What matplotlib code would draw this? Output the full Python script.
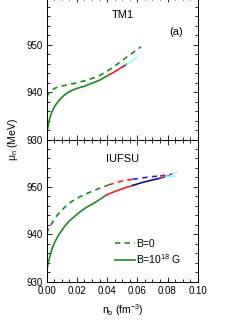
import matplotlib
matplotlib.use("Agg")
import matplotlib.pyplot as plt
from matplotlib.ticker import MultipleLocator, FixedLocator

plt.rcParams['font.family'] = ['Liberation Sans', 'DejaVu Sans']
plt.rcParams['mathtext.fontset'] = 'custom'
plt.rcParams['mathtext.rm'] = 'Liberation Sans'
plt.rcParams['mathtext.it'] = 'Liberation Sans:italic'
plt.rcParams['mathtext.bf'] = 'Liberation Sans:bold'

# ---------------- data ----------------
# TM1, B=0 (dashed)
tm1_b0_n = [0, 0.001, 0.002, 0.0035, 0.0065, 0.01, 0.015, 0.02, 0.025, 0.03, 0.035, 0.04, 0.045, 0.05, 0.055, 0.06, 0.0625]
tm1_b0_mu = [939.0, 939.6, 940.0, 940.5, 941.0, 941.3, 941.6, 942.0, 942.4, 942.9, 943.5, 944.4, 945.5, 946.7, 947.9, 949.0, 949.6]
# TM1, B=1e18 G (solid), coloured pieces
tm1_b18_green_n = [0, 0.0005, 0.001, 0.002, 0.0035, 0.0055, 0.0075, 0.01, 0.0125, 0.0145, 0.0175, 0.021, 0.0245, 0.03, 0.0355, 0.042]
tm1_b18_green_mu = [930.7, 932.0, 933.0, 934.5, 935.9, 937.1, 938.0, 938.9, 939.6, 940.0, 940.5, 940.9, 941.2, 941.9, 942.6, 943.8]
tm1_b18_red_n = [0.042, 0.046, 0.0505]
tm1_b18_red_mu = [943.8, 944.5, 945.4]
tm1_b18_purple_n = [0.0505, 0.053]
tm1_b18_purple_mu = [945.4, 945.9]
tm1_b18_cyan_n = [0.053, 0.0565, 0.0595]
tm1_b18_cyan_mu = [945.9, 946.6, 947.3]

# IUFSU, B=0 (dashed), coloured pieces
iu_b0_green_n = [0, 0.001, 0.002, 0.0033, 0.005, 0.0077, 0.011, 0.0143, 0.018, 0.022, 0.026, 0.031, 0.036, 0.041]
iu_b0_green_mu = [940.1, 941.0, 941.6, 942.2, 943.1, 944.3, 945.4, 946.4, 947.2, 947.9, 948.5, 949.2, 949.8, 950.4]
iu_b0_red_n = [0.041, 0.046, 0.051, 0.057]
iu_b0_red_mu = [950.4, 950.9, 951.3, 951.6]
iu_b0_blue_n = [0.057, 0.062, 0.068, 0.075]
iu_b0_blue_mu = [951.6, 951.8, 952.1, 952.3]
iu_b0_purple_n = [0.075, 0.079, 0.083]
iu_b0_purple_mu = [952.3, 952.5, 952.7]
iu_b0_cyan_n = [0.083, 0.086, 0.089]
iu_b0_cyan_mu = [952.8, 953.1, 953.2]
# IUFSU, B=1e18 G (solid), coloured pieces
iu_b18_green_n = [0, 0.0005, 0.001, 0.002, 0.0035, 0.0055, 0.0075, 0.01, 0.0125, 0.015, 0.019, 0.022, 0.026, 0.031, 0.035, 0.0397]
iu_b18_green_mu = [932.0, 933.0, 934.0, 935.2, 936.9, 938.4, 939.6, 940.8, 941.9, 942.8, 943.9, 944.7, 945.6, 946.5, 947.3, 948.3]
iu_b18_red_n = [0.0397, 0.045, 0.051, 0.057]
iu_b18_red_mu = [948.3, 949.0, 949.7, 950.3]
iu_b18_navy_n = [0.057, 0.062, 0.068, 0.075]
iu_b18_navy_mu = [950.3, 950.8, 951.3, 951.8]
iu_b18_purple_n = [0.075, 0.078, 0.081]
iu_b18_purple_mu = [951.8, 952.1, 952.3]
iu_b18_cyan_n = [0.079, 0.082, 0.085]
iu_b18_cyan_mu = [952.1, 952.2, 952.3]

x_ticks = [0.00, 0.02, 0.04, 0.06, 0.08, 0.10]
x_tick_labels = ['0.00', '0.02', '0.04', '0.06', '0.08', '0.10']
y_ticks = [930, 940, 950]
legend_labels = ['B=0', 'B=10$^{18}$ G']

# ---------------- styling ----------------
GREEN = '#1b8a1b'
RED = '#ff1a1a'
BLUE = '#2020ff'
NAVY = '#101080'
PURPLE = '#8a208a'
CYAN = '#88ffff'
LW = 1.2
DASH = (0, (3.2, 2.6))

fig = plt.figure(figsize=(2.49, 3.23), dpi=100)
W, H = 249.0, 323.0
x0, x1 = 46.7, 197.7
ax_top = fig.add_axes([x0 / W, (H - 139.5) / H, (x1 - x0) / W, 142.0 / H])
ax_bot = fig.add_axes([x0 / W, (H - 281.5) / H, (x1 - x0) / W, 142.0 / H])

for ax in (ax_top, ax_bot):
    ax.set_xlim(0, 0.10)
    ax.set_ylim(930, 960)
    ax.xaxis.set_major_locator(FixedLocator(x_ticks))
    ax.xaxis.set_minor_locator(MultipleLocator(0.005))
    ax.yaxis.set_major_locator(FixedLocator(y_ticks))
    ax.yaxis.set_minor_locator(MultipleLocator(2))
    ax.tick_params(which='both', direction='in', top=True, right=True,
                   labelsize=7, width=0.6, pad=3)
    ax.tick_params(which='major', length=3.5)
    ax.tick_params(which='minor', length=2)
    for s in ax.spines.values():
        s.set_linewidth(0.7)

ax_top.tick_params(labelbottom=False)
ax_bot.set_xticklabels(x_tick_labels)

# TM1 panel
ax_top.plot(tm1_b0_n, tm1_b0_mu, color=GREEN, lw=LW, ls=DASH)
ax_top.plot(tm1_b18_green_n, tm1_b18_green_mu, color=GREEN, lw=LW)
ax_top.plot(tm1_b18_red_n, tm1_b18_red_mu, color=RED, lw=LW)
ax_top.plot(tm1_b18_purple_n, tm1_b18_purple_mu, color=PURPLE, lw=LW)
ax_top.plot(tm1_b18_cyan_n, tm1_b18_cyan_mu, color=CYAN, lw=LW)
ax_top.text(0.505, 0.88, 'TM1', transform=ax_top.transAxes, ha='center', va='center', fontsize=8)
ax_top.text(0.857, 0.755, '(a)', transform=ax_top.transAxes, ha='center', va='center', fontsize=8)

# IUFSU panel
l0, = ax_bot.plot(iu_b0_green_n, iu_b0_green_mu, color=GREEN, lw=LW, ls=DASH)
ax_bot.plot(iu_b0_red_n, iu_b0_red_mu, color=RED, lw=LW, ls=DASH)
ax_bot.plot(iu_b0_blue_n, iu_b0_blue_mu, color=BLUE, lw=LW, ls=DASH)
ax_bot.plot(iu_b0_purple_n, iu_b0_purple_mu, color=PURPLE, lw=LW, ls=DASH)
ax_bot.plot(iu_b0_cyan_n, iu_b0_cyan_mu, color=CYAN, lw=LW, ls=DASH)
l1, = ax_bot.plot(iu_b18_green_n, iu_b18_green_mu, color=GREEN, lw=LW)
ax_bot.plot(iu_b18_red_n, iu_b18_red_mu, color=RED, lw=LW)
ax_bot.plot(iu_b18_navy_n, iu_b18_navy_mu, color=NAVY, lw=LW)
ax_bot.plot(iu_b18_purple_n, iu_b18_purple_mu, color=PURPLE, lw=LW)
ax_bot.plot(iu_b18_cyan_n, iu_b18_cyan_mu, color=CYAN, lw=LW)
ax_bot.text(0.505, 0.86, 'IUFSU', transform=ax_bot.transAxes, ha='center', va='center', fontsize=8)

ax_bot.legend([l0, l1], legend_labels, loc='upper left', bbox_to_anchor=(0.455, 0.30),
              frameon=False, fontsize=7.5, handlelength=1.9, handletextpad=0.1,
              borderpad=0, borderaxespad=0, labelspacing=0.3)

fig.text(13 / W, (H - 140) / H, 'μ$_{\\rm n}$ (MeV)', rotation=90, ha='center', va='center', fontsize=7.5)
fig.text(123 / W, (H - 310) / H, 'n$_{\\rm b}$ (fm$^{-3}$)', ha='center', va='center', fontsize=7.5)

fig.savefig('out.png', dpi=100)
